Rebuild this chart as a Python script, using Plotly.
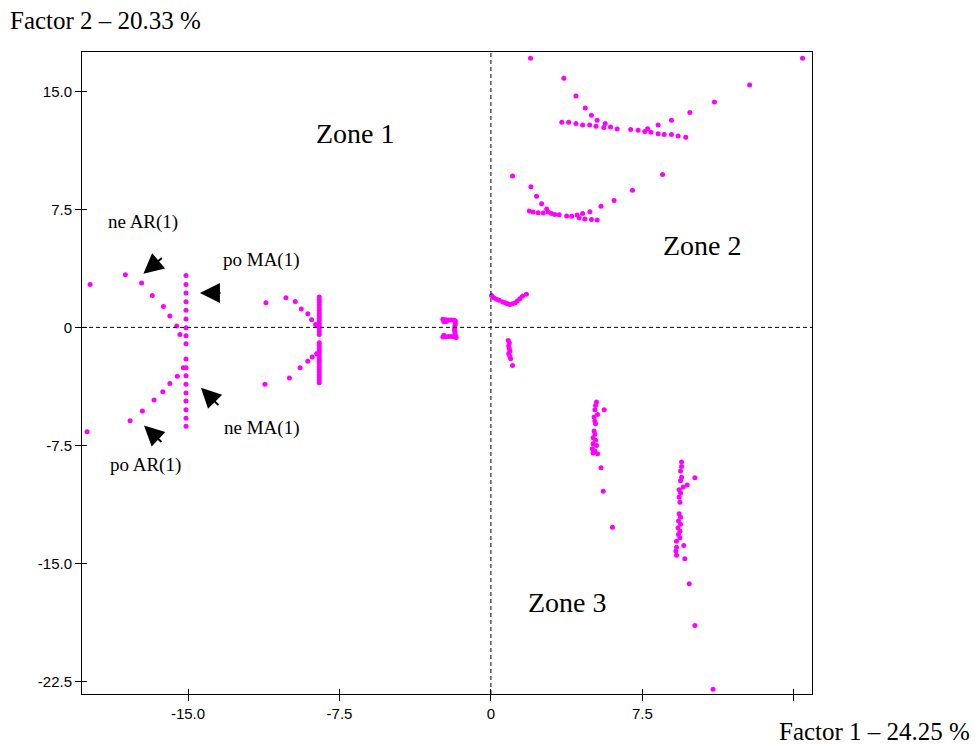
import plotly.graph_objects as go

# ---------------- data ----------------
# left fan (around x = -15)
fan1_col_x = [-15.1] * 18
fan1_col_y = [3.29, 2.73, 2.18, 1.63, 1.08, 0.53, -0.02, -0.53, -1.04, -2.01,
              -2.56, -3.07, -3.62, -4.17, -4.68, -5.23, -5.78, -6.29]
fan1_up_x = [-19.85, -18.1, -17.3, -16.77, -16.22, -15.9, -15.56, -15.4]
fan1_up_y = [2.73, 3.35, 2.82, 2.03, 1.33, 0.72, 0.08, -0.45]
fan1_lo_x = [-15.23, -15.53, -15.9, -16.25, -16.68, -17.26, -17.87, -20.0]
fan1_lo_y = [-2.56, -3.1, -3.56, -4.09, -4.62, -5.32, -5.93, -6.63]

# second fan (around x = -8.5)
fan2_col_x = [-8.5] * 31
fan2_col_y = [1.93, 1.76, 1.59, 1.42, 1.25, 1.08, 0.91, 0.74, 0.57, 0.40, 0.23,
              0.06, -0.11, -0.28, -0.46, -0.97, -1.14, -1.31, -1.48, -1.65,
              -1.82, -1.99, -2.16, -2.33, -2.50, -2.67, -2.84, -3.01, -3.18,
              -3.35, -3.52]
fan2_arm_x = [-11.14, -10.15, -9.69, -9.39, -9.07, -8.88, -8.68,
              -8.63, -8.85, -9.07, -9.45, -9.98, -11.19]
fan2_arm_y = [1.57, 1.89, 1.65, 1.16, 0.87, 0.49, 0.19,
              -1.67, -1.89, -2.16, -2.56, -3.22, -3.62]

# small cluster near x = -2 (bracket shape)
mid_x = [-2.38, -2.24, -2.10, -1.96, -1.82, -2.33, -2.20,
         -1.76, -1.76, -1.78, -1.80, -1.80, -1.78, -1.76,
         -2.38, -2.24, -2.10, -1.96, -1.82, -1.72, -2.33]
mid_y = [0.51, 0.49, 0.47, 0.47, 0.45, 0.35, 0.38,
         0.40, 0.25, 0.10, -0.05, -0.20, -0.35, -0.50,
         -0.62, -0.60, -0.58, -0.58, -0.60, -0.64, -0.50]

# cluster just right of origin
orig_up_x = [0.03, 0.15, 0.28, 0.41, 0.58, 0.71, 0.82, 0.94, 1.07, 1.20, 1.31,
             1.43, 1.56, 1.76]
orig_up_y = [2.03, 1.89, 1.78, 1.72, 1.61, 1.57, 1.50, 1.46, 1.50, 1.57,
             1.67, 1.82, 1.97, 2.10]
orig_lo_x = [0.86, 0.91, 0.88, 0.91, 0.94, 0.88, 0.94, 0.97, 1.07]
orig_lo_y = [-0.83, -1.00, -1.17, -1.36, -1.51, -1.68, -1.85, -2.00, -2.42]

# zone 2, upper arc
arc1_x = [1.96, 15.43, 3.61, 4.21, 4.67, 4.98, 5.26, 5.66, 5.92, 6.25, 6.92,
          7.29, 7.62, 7.76, 7.92, 8.28, 8.28, 8.58, 8.94, 8.94, 9.27, 9.65,
          9.85, 11.07, 12.81, 3.51, 3.85, 4.21, 4.54, 4.89, 5.2, 5.59]
arc1_y = [17.1, 17.1, 15.83, 14.7, 13.94, 13.48, 13.16, 12.95, 12.73, 12.61,
          12.57, 12.52, 12.44, 12.63, 12.40, 12.86, 12.31, 12.25, 13.16, 12.25,
          12.16, 12.08, 13.65, 14.32, 15.40, 13.03, 13.03, 12.95, 12.86, 12.86,
          12.78, 12.70]

# zone 2, lower arc
arc2_x = [1.07, 8.5, 1.98, 2.26, 2.51, 2.76, 1.90, 2.09, 2.34, 2.59, 2.84,
          3.0, 3.17, 3.38, 3.75, 4.0, 4.27, 4.54, 4.37, 4.65, 4.98, 5.26,
          4.9, 5.45, 6.1, 7.01]
arc2_y = [9.62, 9.71, 8.94, 8.33, 7.86, 7.52, 7.39, 7.33, 7.29, 7.27, 7.33,
          7.23, 7.18, 7.16, 7.08, 7.06, 7.14, 7.23, 6.97, 6.88, 6.85, 6.82,
          7.35, 7.69, 8.07, 8.71]

# zone 3, left streak
z3a_x = [5.23, 5.18, 5.15, 5.61, 5.28, 5.11, 5.15, 5.18, 5.11, 5.15, 5.06,
         5.18, 5.06, 5.23, 5.02, 5.15, 5.28, 5.06, 5.45, 5.56, 6.02]
z3a_y = [-4.75, -4.96, -5.23, -5.23, -5.53, -5.70, -5.96, -6.12, -6.59, -6.80,
         -7.01, -7.18, -7.39, -7.50, -7.71, -7.86, -8.03, -7.99, -8.92, -10.41,
         -12.71]

# zone 3, right streak
z3b_x = [9.44, 9.44, 9.39, 9.44, 10.1, 9.39, 9.72, 9.52, 9.32, 9.39, 9.32,
         9.36, 9.32, 9.39, 9.29, 9.39, 9.27, 9.36, 9.29, 9.36, 9.19, 9.55,
         9.19, 9.16, 9.19, 9.6, 9.82, 10.1, 11.0]
z3b_y = [-8.56, -8.84, -9.13, -9.52, -9.56, -9.75, -10.02, -10.15, -10.32,
         -10.53, -10.79, -11.11, -11.84, -12.06, -12.31, -12.52, -12.74, -12.95,
         -13.16, -13.37, -13.59, -13.86, -13.97, -14.22, -14.49, -14.7, -16.3,
         -18.94, -23.0]

x_tickvals = [-15.0, -7.5, 0.0, 7.5, 15.0]
x_ticktext = ["-15.0", "-7.5", "0", "7.5", ""]
y_tickvals = [15.0, 7.5, 0.0, -7.5, -15.0, -22.5]
y_ticktext = ["15.0", "7.5", "0", "-7.5", "-15.0", "-22.5"]

x_title = "Factor 1 – 24.25 %"
y_title = "Factor 2 – 20.33 %"

zone_labels = ["Zone 1", "Zone 2", "Zone 3"]
zone_x = [-6.73, 10.5, 3.81]
zone_y = [12.33, 5.21, -17.48]

note_labels = ["ne AR(1)", "po MA(1)", "ne MA(1)", "po AR(1)"]
note_x = [-17.23, -11.34, -11.34, -17.13]
note_y = [6.68, 4.26, -6.42, -8.77]

arrow_x = [-17.21, -14.41, -14.36, -17.18]
arrow_y = [3.41, 2.18, -3.83, -6.23]
arrow_ax = [20, 22, 19, 19]
arrow_ay = [-17, 0, 19, 18]

# ---------------- figure ----------------
all_x = (fan1_col_x + fan1_up_x + fan1_lo_x + fan2_col_x + fan2_arm_x + mid_x
         + orig_up_x + orig_lo_x + arc1_x + arc2_x + z3a_x + z3b_x)
all_y = (fan1_col_y + fan1_up_y + fan1_lo_y + fan2_col_y + fan2_arm_y + mid_y
         + orig_up_y + orig_lo_y + arc1_y + arc2_y + z3a_y + z3b_y)

XR = [-20.25, 15.9]
YR = [-23.3, 17.5]

# page has an 8px body margin; figure is sized so the plot box lands at
# page (82..812, 52..694)
FIG_W, FIG_H = 972, 736
ML, MT, MR, MB = 74, 44, 168, 50
PW = FIG_W - ML - MR
PH = FIG_H - MT - MB

fig = go.Figure()
fig.add_trace(go.Scatter(x=all_x, y=all_y, mode="markers",
                         marker=dict(color="#FF00FF", size=5, line=dict(width=0)),
                         hoverinfo="skip", showlegend=False))
# invisible trace on overlay axes (for inward tick halves)
fig.add_trace(go.Scatter(x=[XR[0]], y=[YR[0]], xaxis="x2", yaxis="y2",
                         mode="markers", marker=dict(opacity=0),
                         hoverinfo="skip", showlegend=False))

# dashed zero lines
fig.add_shape(type="line", xref="x", yref="y", x0=0, x1=0, y0=YR[0], y1=YR[1],
              line=dict(color="black", width=1, dash="4px,3px"))
fig.add_shape(type="line", xref="x", yref="y", x0=XR[0], x1=XR[1], y0=0, y1=0,
              line=dict(color="black", width=1, dash="4px,3px"))

tickfont = dict(family="Liberation Sans, Arial, sans-serif", size=15, color="black")
axis_common = dict(showgrid=False, zeroline=False, showline=True, linecolor="black",
                   linewidth=1, mirror=True, ticks="outside", ticklen=6,
                   tickcolor="black", tickwidth=1, tickfont=tickfont)

fig.update_layout(
    width=FIG_W, height=FIG_H,
    margin=dict(l=ML, r=MR, t=MT, b=MB),
    paper_bgcolor="white", plot_bgcolor="white",
    xaxis=dict(range=XR, tickmode="array", tickvals=x_tickvals,
               ticktext=x_ticktext, **axis_common),
    yaxis=dict(range=YR, tickmode="array", tickvals=y_tickvals,
               ticktext=y_ticktext, **axis_common),
    xaxis2=dict(range=XR, overlaying="x", side="bottom", tickmode="array",
                tickvals=x_tickvals, showticklabels=False, ticks="inside",
                ticklen=5, tickcolor="black", showgrid=False, zeroline=False,
                showline=False),
    yaxis2=dict(range=YR, overlaying="y", side="left", tickmode="array",
                tickvals=y_tickvals, showticklabels=False, ticks="inside",
                ticklen=5, tickcolor="black", showgrid=False, zeroline=False,
                showline=False),
    showlegend=False,
)

serif = "Liberation Serif, Times New Roman, serif"
annotations = []
annotations.append(dict(text=y_title, xref="paper", yref="paper",
                        x=(0 - ML) / PW, y=(PH + MT - 12) / PH,
                        xanchor="left", yanchor="middle", showarrow=False,
                        font=dict(family=serif, size=25, color="black")))
annotations.append(dict(text=x_title, xref="paper", yref="paper",
                        x=(769 - ML) / PW, y=(PH + MT - 723) / PH,
                        xanchor="left", yanchor="middle", showarrow=False,
                        font=dict(family=serif, size=25, color="black")))
for t, x, y in zip(zone_labels, zone_x, zone_y):
    annotations.append(dict(text=t, x=x, y=y, xref="x", yref="y", showarrow=False,
                            font=dict(family=serif, size=28, color="black")))
for t, x, y in zip(note_labels, note_x, note_y):
    annotations.append(dict(text=t, x=x, y=y, xref="x", yref="y", showarrow=False,
                            font=dict(family=serif, size=19, color="black")))
for x, y, ax, ay in zip(arrow_x, arrow_y, arrow_ax, arrow_ay):
    annotations.append(dict(text="", x=x, y=y, xref="x", yref="y", ax=ax, ay=ay,
                            showarrow=True, arrowhead=2, arrowsize=2,
                            arrowwidth=2, arrowcolor="black", standoff=0))
fig.update_layout(annotations=annotations)

fig.write_html("out.html")
